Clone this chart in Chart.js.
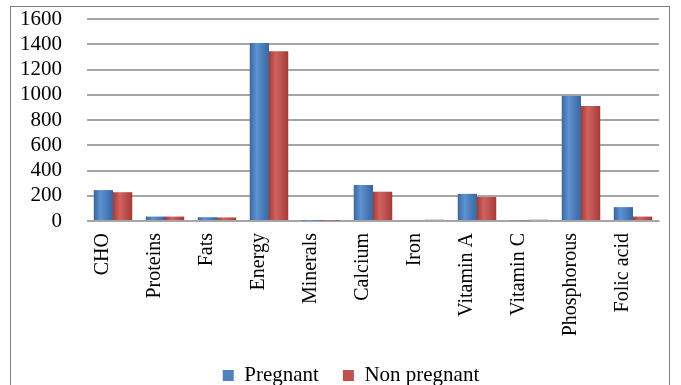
<!DOCTYPE html>
<html>
<head>
<title>Nutrient intake</title>
<script src="https://cdn.jsdelivr.net/npm/chart.js@4.4.1/dist/chart.umd.min.js"></script>
<style>
  body { margin: 0; background: #fff; overflow: hidden; }
  #frame { position: absolute; left: 10px; top: 6px; width: 658px; height: 384px; border: 1px solid #7f7f7f; border-bottom: none; }
  #chart { position: absolute; left: 11px; top: 7px; }
</style>
</head>
<body>
<div id="frame"></div>
<canvas id="chart" width="680" height="389"></canvas>
<script>
  const categories = ["CHO", "Proteins", "Fats", "Energy", "Minerals", "Calcium", "Iron", "Vitamin A", "Vitamin C", "Phosphorous", "Folic acid"];
  const pregnant = [245, 35, 30, 1410, 3, 285, 8, 215, 5, 990, 110];
  const nonPregnant = [228, 35, 28, 1345, 3, 232, 10, 190, 10, 910, 35];
  const yTicks = [0, 200, 400, 600, 800, 1000, 1200, 1400, 1600];

  const serif = "'Liberation Serif', 'Times New Roman', serif";
  Chart.defaults.font.family = serif;
  Chart.defaults.color = "#000";

  const catPct = 0.74;
  // cylinder-ish shading, computed from the x scale position of each bar
  function shade(dark, light, flat) {
    return ctx => {
      const xs = ctx.chart.scales && ctx.chart.scales.x;
      if (!xs || ctx.type !== "data" || !xs.width) return flat;
      const cw = xs.width / categories.length;
      const bw = cw * catPct / 2;
      const left = xs.getPixelForValue(ctx.dataIndex) - (ctx.datasetIndex === 0 ? bw : 0);
      const g = ctx.chart.ctx.createLinearGradient(left, 0, left + bw, 0);
      g.addColorStop(0, dark);
      g.addColorStop(0.35, light);
      g.addColorStop(1, dark);
      return g;
    };
  }

  new Chart(document.getElementById("chart"), {
    type: "bar",
    data: {
      labels: categories,
      datasets: [
        { label: "Pregnant", data: pregnant, backgroundColor: shade("#3a66a0", "#5d92d2", "#4f81bd"), borderWidth: 0 },
        { label: "Non pregnant", data: nonPregnant, backgroundColor: shade("#a23c39", "#d3625e", "#c0504d"), borderWidth: 0 }
      ]
    },
    options: {
      responsive: false,
      animation: false,
      layout: { padding: { top: 12, right: 0, bottom: 0, left: 0 } },
      datasets: { bar: { categoryPercentage: catPct, barPercentage: 1.0 } },
      plugins: {
        tooltip: { enabled: false },
        legend: {
          position: "bottom",
          labels: {
            color: "#000", font: { family: serif, size: 21 }, boxWidth: 11, boxHeight: 11, padding: 24,
            generateLabels: chart => chart.data.datasets.map((d, i) => ({
              text: d.label, fillStyle: i === 0 ? "#4f81bd" : "#c0504d", strokeStyle: "transparent", lineWidth: 0, datasetIndex: i
            }))
          }
        }
      },
      scales: {
        x: {
          grid: { display: false },
          border: { color: "#a6a6a6", width: 1 },
          ticks: { color: "#000", font: { family: serif, size: 20 }, minRotation: 90, maxRotation: 90, labelOffset: -10, padding: 4, autoSkip: false },
          afterFit: s => { s.height = 120; s.paddingRight = 32; s.paddingLeft = 0; }
        },
        y: {
          min: 0,
          max: 1600,
          afterBuildTicks: s => { s.ticks = yTicks.map(v => ({ value: v })); },
          grid: { color: "#a6a6a6", lineWidth: 2, drawTicks: false },
          border: { display: false },
          ticks: { color: "#000", font: { family: serif, size: 21 }, padding: 25, autoSkip: false, callback: v => String(v) },
          afterFit: s => { s.width = 76; s.paddingTop = 0; s.paddingBottom = 0; }
        }
      }
    }
  });
</script>
</body>
</html>
